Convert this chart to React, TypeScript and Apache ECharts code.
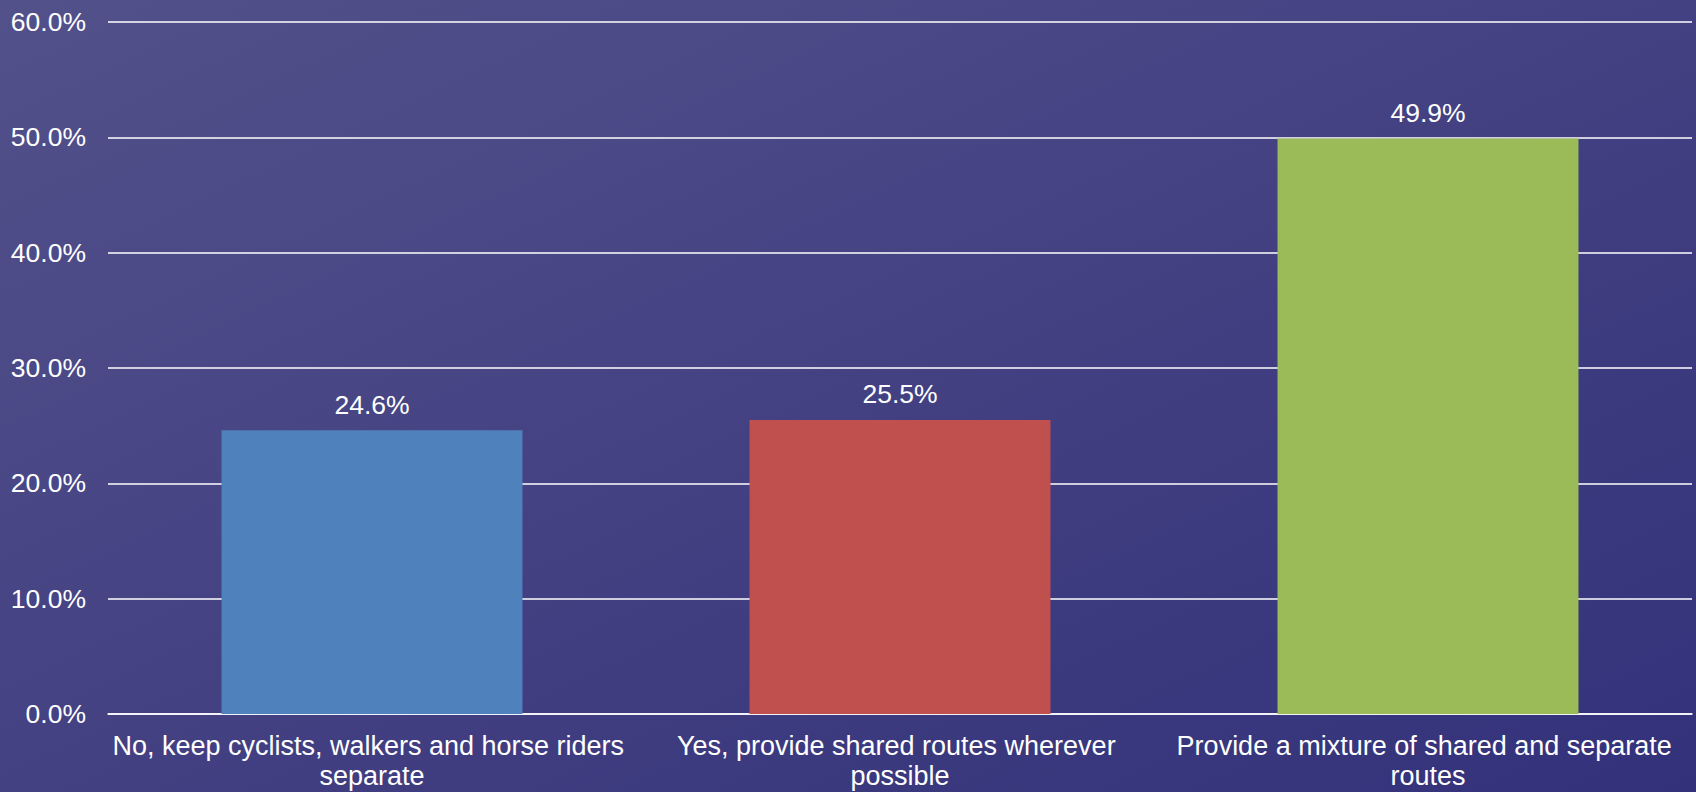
import React, { useEffect, useRef } from "react";
import * as echarts from "echarts";

const categories = [
  "No, keep cyclists, walkers and horse riders separate",
  "Yes, provide shared routes wherever possible",
  "Provide a mixture of shared and separate routes",
];
const values = [24.6, 25.5, 49.9];
const barColors = ["#4f81bd", "#c0504d", "#9bbb59"];
const yMin = 0;
const yMax = 60;
const yInterval = 10;

export default function App() {
  const ref = useRef<HTMLDivElement>(null);
  useEffect(() => {
    if (!ref.current) return;
    const chart = echarts.init(ref.current, null, { renderer: "svg" });
    const font = "'Liberation Sans', Arial, sans-serif";
    chart.setOption({
      animation: false,
      backgroundColor: {
        type: "linear",
        x: 0,
        y: 0,
        x2: 1,
        y2: 1,
        colorStops: [
          { offset: 0, color: "#53518a" },
          { offset: 1, color: "#33317a" },
        ],
      },
      grid: { left: 108, right: 4, top: 22, bottom: 78, containLabel: false },
      xAxis: {
        type: "category",
        data: categories,
        axisLine: { show: true, lineStyle: { color: "#ffffff", width: 1.5 } },
        axisTick: { show: false },
        axisLabel: {
          color: "#ffffff",
          fontFamily: font,
          fontSize: 27,
          lineHeight: 30,
          margin: 17,
          width: 528,
          overflow: "break",
          interval: 0,
        },
      },
      yAxis: {
        type: "value",
        min: yMin,
        max: yMax,
        interval: yInterval,
        axisLine: { show: false },
        axisTick: { show: false },
        splitLine: { lineStyle: { color: "#ffffff", width: 1.5 } },
        axisLabel: {
          color: "#ffffff",
          fontFamily: font,
          fontSize: 26.5,
          margin: 22,
          formatter: (v: number) => v.toFixed(1) + "%",
        },
      },
      series: [
        {
          type: "bar",
          data: values.map((v, i) => ({ value: v, itemStyle: { color: barColors[i] } })),
          barWidth: "57%",
          label: {
            show: true,
            position: "top",
            distance: 12,
            color: "#ffffff",
            fontFamily: font,
            fontSize: 26.5,
            formatter: (p: any) => p.value.toFixed(1) + "%",
          },
        },
      ],
    });
    return () => chart.dispose();
  }, []);
  return (
    <div
      ref={ref}
      style={{ position: "absolute", left: 0, top: 0, width: 1696, height: 792 }}
    />
  );
}
